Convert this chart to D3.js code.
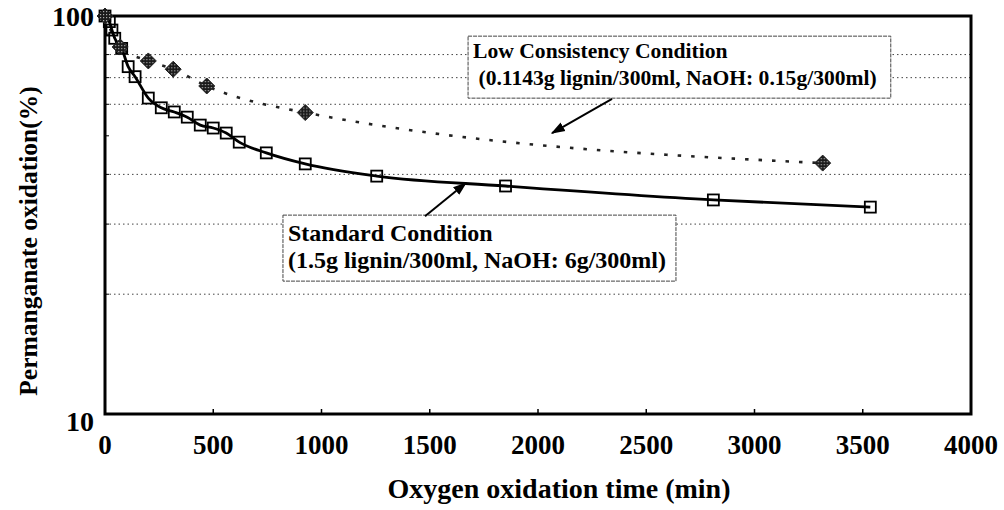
<!DOCTYPE html>
<html>
<head>
<meta charset="utf-8">
<script src="https://cdn.jsdelivr.net/npm/d3@7"></script>
<style>
  body { margin: 0; background: #fff; }
  text { font-family: "Liberation Serif", "Times New Roman", serif; font-weight: bold; fill: #000; }
</style>
</head>
<body>
<svg id="chart" width="1004" height="510"></svg>
<script>
// standard condition (squares, solid line)
const stdTime  = [0, 20, 32, 45, 77, 107, 139, 200, 260, 320, 380, 440, 500, 560, 620, 745, 925, 1255, 1850, 2810, 3535];
const stdValue = [100, 96.8, 92.2, 87.9, 82.9, 74.6, 70.4, 62.2, 58.8, 57.4, 55.7, 53.2, 52.3, 50.8, 48.2, 45.3, 42.5, 39.6, 37.4, 34.5, 33.1];

// low consistency condition (diamonds, dotted line)
const lowTime  = [0, 70, 200, 315, 470, 925, 3315];
const lowValue = [100, 83.6, 77.1, 73.5, 66.7, 57.2, 42.7];

const xTicks = [0, 500, 1000, 1500, 2000, 2500, 3000, 3500, 4000];
const yTicks = [10, 100];
const gridValues = [20, 30, 40, 60, 70, 80];
const minorY = [20, 30, 40, 50, 60, 70, 80, 90];

const lowLabel = ["Low Consistency Condition", " (0.1143g lignin/300ml, NaOH: 0.15g/300ml)"];
const stdLabel = ["Standard Condition", "(1.5g lignin/300ml, NaOH: 6g/300ml)"];

const svg = d3.select("#chart");

const x = d3.scaleLinear().domain([0, 4000]).range([105, 971]);
const y = d3.scaleLog().domain([10, 100]).range([414, 16]);

// pattern for the diamond fill
const defs = svg.append("defs");
const pat = defs.append("pattern")
    .attr("id", "checker")
    .attr("width", 3).attr("height", 3)
    .attr("patternUnits", "userSpaceOnUse");
pat.append("rect").attr("width", 3).attr("height", 3).attr("fill", "#1a1a1a");
pat.append("rect").attr("x", 1).attr("y", 1).attr("width", 1.2).attr("height", 1.2).attr("fill", "#aaa");

defs.append("marker")
    .attr("id", "arrow")
    .attr("viewBox", "0 0 10 10")
    .attr("refX", 9).attr("refY", 5)
    .attr("markerWidth", 7).attr("markerHeight", 7)
    .attr("orient", "auto")
  .append("path")
    .attr("d", "M0,1.5 L10,5 L0,8.5 Z")
    .attr("fill", "#000");

// gridlines
svg.append("g").selectAll("line")
    .data(gridValues)
    .enter().append("line")
    .attr("x1", x(0)).attr("x2", x(4000))
    .attr("y1", d => y(d)).attr("y2", d => y(d))
    .attr("stroke", "#444")
    .attr("stroke-width", 1)
    .attr("stroke-dasharray", "1.5,3");

// small inner ticks on the left axis
svg.append("g").selectAll("line")
    .data(minorY)
    .enter().append("line")
    .attr("x1", x(0)).attr("x2", x(0) + 4)
    .attr("y1", d => y(d)).attr("y2", d => y(d))
    .attr("stroke", "#000").attr("stroke-width", 1);

// x axis ticks pointing up
svg.append("g").selectAll("line")
    .data(xTicks)
    .enter().append("line")
    .attr("x1", d => x(d)).attr("x2", d => x(d))
    .attr("y1", y(10)).attr("y2", y(10) - 5)
    .attr("stroke", "#000").attr("stroke-width", 1.5);

// frame
svg.append("rect")
    .attr("x", x(0)).attr("y", y(100))
    .attr("width", x(4000) - x(0))
    .attr("height", y(10) - y(100))
    .attr("fill", "none")
    .attr("stroke", "#000")
    .attr("stroke-width", 3);

// tick labels
svg.append("g").selectAll("text")
    .data(xTicks)
    .enter().append("text")
    .attr("x", d => x(d))
    .attr("y", y(10) + 40)
    .attr("text-anchor", "middle")
    .style("font-size", "27px")
    .text(d => d);

svg.append("g").selectAll("text")
    .data(yTicks)
    .enter().append("text")
    .attr("x", x(0) - 11)
    .attr("y", d => y(d) + (d === 10 ? 17 : 10))
    .attr("text-anchor", "end")
    .style("font-size", "28px")
    .text(d => d);

// axis titles
svg.append("text")
    .attr("x", 559)
    .attr("y", 498)
    .attr("text-anchor", "middle")
    .style("font-size", "28px")
    .text("Oxygen oxidation time (min)");

svg.append("text")
    .attr("transform", "translate(37,241) rotate(-90)")
    .attr("text-anchor", "middle")
    .style("font-size", "25.5px")
    .text("Permanganate oxidation(%)");

// lines
const stdData = stdTime.map((t, i) => ({ t: t, v: stdValue[i] }));
const lowData = lowTime.map((t, i) => ({ t: t, v: lowValue[i] }));

const line = d3.line()
    .x(d => x(d.t))
    .y(d => y(d.v))
    .curve(d3.curveMonotoneX);

svg.append("path")
    .datum(lowData)
    .attr("d", line)
    .attr("fill", "none")
    .attr("stroke", "#222")
    .attr("stroke-width", 2.6)
    .attr("stroke-dasharray", "3.5,10");

svg.append("path")
    .datum(stdData)
    .attr("d", line)
    .attr("fill", "none")
    .attr("stroke", "#000")
    .attr("stroke-width", 2.8);

// markers
svg.append("g").selectAll("rect")
    .data(stdData)
    .enter().append("rect")
    .attr("x", d => x(d.t) - 5.5)
    .attr("y", d => y(d.v) - 5.5)
    .attr("width", 11).attr("height", 11)
    .attr("fill", "none")
    .attr("stroke", "#000")
    .attr("stroke-width", 1.8);

svg.append("g").selectAll("path")
    .data(lowData)
    .enter().append("path")
    .attr("transform", d => `translate(${x(d.t)},${y(d.v)})`)
    .attr("d", "M0,-8 L8,0 L0,8 L-8,0 Z")
    .attr("fill", "url(#checker)")
    .attr("stroke", "#222")
    .attr("stroke-width", 1);

// annotation boxes
function addNote(lines, anchor, size, gap, first, pad) {
  const g = svg.append("g");
  const bx = x(anchor.t), by = y(anchor.v);
  const box = g.append("rect").attr("fill", "#fff")
      .attr("stroke", "#444").attr("stroke-width", 1).attr("stroke-dasharray", "4,1");
  const texts = lines.map((s, i) => g.append("text")
      .attr("x", bx + 5)
      .attr("y", by + first + i * gap)
      .style("font-size", size + "px")
      .style("white-space", "pre")
      .text(s));
  let w = 0;
  texts.forEach(t => { const b = t.node().getBBox(); w = Math.max(w, b.x + b.width - bx); });
  box.attr("x", bx).attr("y", by)
     .attr("width", w + pad)
     .attr("height", first + gap + 13);
}

addNote(lowLabel, { t: 1677, v: 89 }, 21.6, 27, 22, 14);
addNote(stdLabel, { t: 822, v: 31.6 }, 24, 27, 26, 10);

// arrows
const arrows = [
  { from: { t: 2342, v: 61.9 }, to: { t: 2065, v: 50.8 } },
  { from: { t: 1478, v: 31.4 }, to: { t: 1667, v: 38.05 } }
];
svg.append("g").selectAll("line")
    .data(arrows)
    .enter().append("line")
    .attr("x1", d => x(d.from.t)).attr("y1", d => y(d.from.v))
    .attr("x2", d => x(d.to.t)).attr("y2", d => y(d.to.v))
    .attr("stroke", "#000")
    .attr("stroke-width", 2)
    .attr("marker-end", "url(#arrow)");
</script>
</body>
</html>
